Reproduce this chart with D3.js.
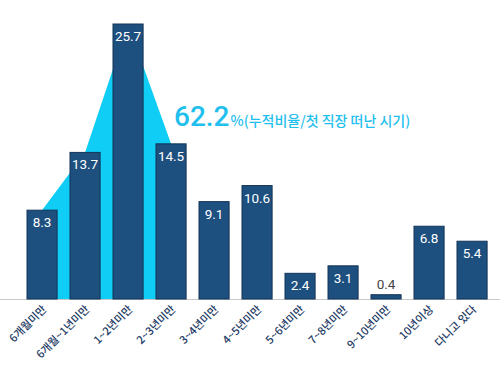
<!DOCTYPE html>
<html>
<head>
<meta charset="utf-8">
<script src="https://cdn.jsdelivr.net/npm/d3@7"></script>
<style>
  body { margin: 0; background: #fff; }
  svg { display: block; }
</style>
</head>
<body>
<svg id="chart" width="500" height="371"></svg>
<script>
// tenure at first job (share of respondents, %)
const categories = ['6개월미만', '6개월~1년미만', '1~2년미만', '2~3년미만', '3~4년미만', '4~5년미만',
  '5~6년미만', '7~8년미만', '9~10년미만', '10년이상', '다니고 있다']
const values = [8.3, 13.7, 25.7, 14.5, 9.1, 10.6, 2.4, 3.1, 0.4, 6.8, 5.4]
// the first four bars make up the cumulative highlight
const highlightCount = 4
const highlightValue = '62.2'
const highlightNote = '%(누적비율/첫 직장 떠난 시기)'

const data = categories.map((c, i) => ({ cat: c, value: values[i] }))

const svg = d3.select('#chart')
const baseY = 299

const x = d3.scaleBand()
  .domain(categories)
  .range([20.55, 493.55])
  .paddingInner(0.3)
  .paddingOuter(0.15)

const y = d3.scaleLinear()
  .domain([0, 25.7])
  .range([baseY, 24])

const cx = d => x(d.cat) + x.bandwidth() / 2

// cyan cumulative area behind the bars
const area = d3.area()
  .x(cx)
  .y0(baseY)
  .y1(d => y(d.value))

svg.append('path')
  .datum(data.slice(0, highlightCount))
  .attr('d', area)
  .attr('fill', '#0fcdf5')

// baseline
svg.append('line')
  .attr('x1', 0)
  .attr('x2', 500)
  .attr('y1', baseY + 0.5)
  .attr('y2', baseY + 0.5)
  .attr('stroke', '#c8c8c8')
  .attr('stroke-width', 1)

// bars
svg.selectAll('.bar')
  .data(data)
  .enter()
  .append('rect')
  .attr('class', 'bar')
  .attr('x', d => x(d.cat))
  .attr('y', d => y(d.value))
  .attr('width', x.bandwidth())
  .attr('height', d => baseY - y(d.value))
  .attr('fill', '#1d4f7f')
  .attr('stroke', '#133457')
  .attr('stroke-width', 1)

// value labels
svg.selectAll('.val')
  .data(data)
  .enter()
  .append('text')
  .attr('class', 'val')
  .attr('x', cx)
  .attr('y', d => d.value < 1 ? y(d.value) - 6 : y(d.value) + 17)
  .attr('text-anchor', 'middle')
  .attr('font-family', 'Roboto, sans-serif')
  .attr('font-size', 13.5)
  .attr('fill', d => d.value < 1 ? '#444' : '#fff')
  .text(d => d.value)

// rotated category labels
svg.selectAll('.cat')
  .data(data)
  .enter()
  .append('text')
  .attr('class', 'cat')
  .attr('transform', d => `translate(${cx(d) + 5},${baseY + 11}) rotate(-45)`)
  .attr('text-anchor', 'end')
  .attr('font-family', '"Noto Sans CJK KR", sans-serif')
  .attr('font-weight', 500)
  .attr('font-size', 11)
  .attr('fill', '#1c3a64')
  .text(d => d.cat)

// highlight annotation
const note = svg.append('text')
  .attr('x', 174)
  .attr('y', 126)
  .attr('font-family', '"Noto Sans CJK KR", Roboto, sans-serif')
  .attr('fill', '#1fc0ee')

note.append('tspan')
  .attr('font-family', 'Roboto, sans-serif')
  .attr('font-weight', 500)
  .attr('font-size', 28)
  .text(highlightValue)

note.append('tspan')
  .attr('font-size', 14)
  .attr('font-weight', 500)
  .attr('dx', 1)
  .text(highlightNote)
</script>
</body>
</html>
